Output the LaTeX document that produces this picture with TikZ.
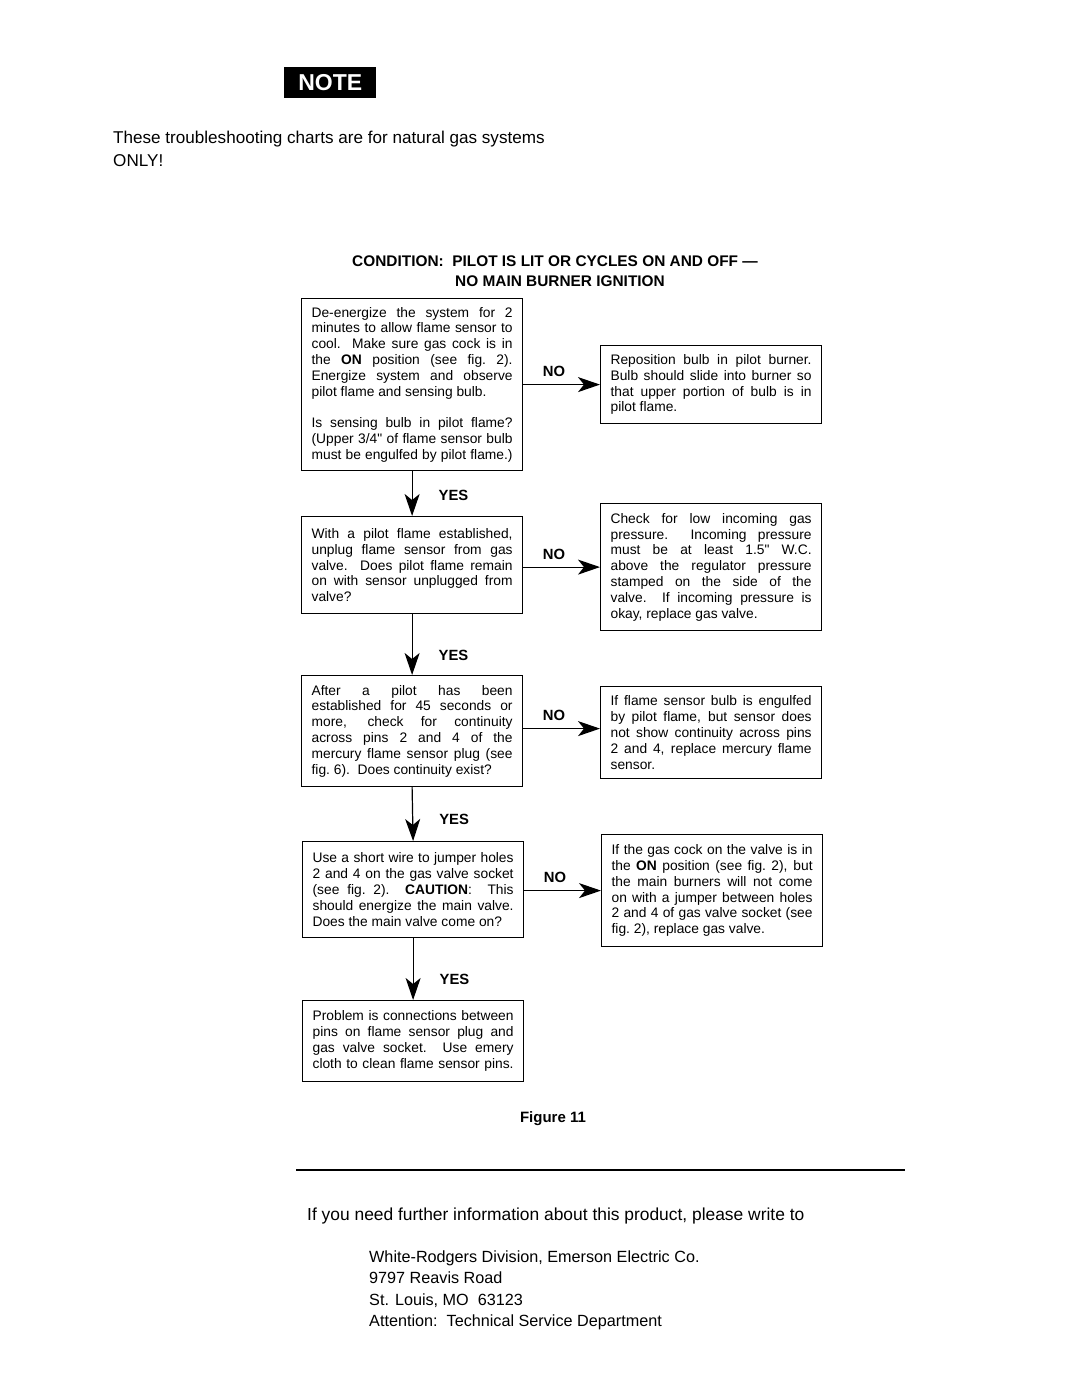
\documentclass[tikz,border=0pt]{standalone}
\usepackage{fontspec}
\setmainfont{Liberation Sans}
\newfontfamily\qfont{Liberation Sans}
\usetikzlibrary{arrows.meta}
\newcommand\jl[1]{\hbox to\hsize{#1}}
\newcommand\nl[1]{\hbox{#1}}
\newcommand\bxt[2]{\vbox{\hsize=#1\fontsize{13.8}{15.8}\selectfont #2}}
\newcommand\inch{{\qfont"}}
\tikzset{
  flowbox/.style={draw, line width=1.2pt, inner xsep=10pt, inner ysep=0pt, anchor=north west},
  arr/.style={line width=1.2pt, -{Stealth[length=22pt,width=15pt,inset=6pt]}},
  lab/.style={font=\fontsize{14.8}{16}\selectfont\bfseries, inner sep=2pt},
  plain/.style={inner sep=0pt}
}
\begin{document}
\begin{tikzpicture}[x=1pt,y=-1pt]
\fill[white] (0,0) rectangle (1080,1391);
\useasboundingbox (0,0) rectangle (1080,1391);

% NOTE badge
\node[fill=black, minimum width=92pt, minimum height=31pt, inner sep=0pt, anchor=north west,
      text=white, font=\fontsize{23}{24}\selectfont\bfseries] (note) at (284,67) {NOTE};

\node[plain, anchor=base west, font=\fontsize{17.1}{20}\selectfont] (intro1) at (113,144)
  {These troubleshooting charts are for natural gas systems};
\node[plain, anchor=base west, font=\fontsize{17.1}{20}\selectfont] (intro2) at (113,167) {ONLY!};

% title
\node[plain, anchor=base, font=\fontsize{15.4}{17}\selectfont\bfseries] (title1) at (555,266)
  {CONDITION:\ \ PILOT IS LIT OR CYCLES ON AND OFF ---};
\node[plain, anchor=base, font=\fontsize{15.4}{17}\selectfont\bfseries] (title2) at (560,286)
  {NO MAIN BURNER IGNITION};

% left column
\node[flowbox, minimum height=172pt] (b1) at (301,298) {\bxt{201pt}{%
\jl{De-energize the system for 2}
\jl{minutes to allow flame sensor to}
\jl{cool.\ \ Make sure gas cock is in}
\jl{the \textbf{ON} position (see fig.\ 2).}
\jl{Energize system and observe}
\nl{pilot flame and sensing bulb.}
\vskip15.8pt
\jl{Is sensing bulb in pilot flame?}
\jl{(Upper 3/4\inch\ of flame sensor bulb}
\jl{must be engulfed by pilot flame.)}}};

\node[flowbox, minimum height=97pt] (b2) at (301,516) {\bxt{201pt}{%
\jl{With a pilot flame established,}
\jl{unplug flame sensor from gas}
\jl{valve.\ \ Does pilot flame remain}
\jl{on with sensor unplugged from}
\nl{valve?}}};

\node[flowbox, minimum height=111pt] (b3) at (301,675) {\bxt{201pt}{%
\jl{After a pilot has been}
\jl{established for 45 seconds or}
\jl{more, check for continuity}
\jl{across pins 2 and 4 of the}
\jl{mercury flame sensor plug (see}
\nl{fig.\ 6).\ \ Does continuity exist?}}};

\node[flowbox, minimum height=96pt] (b4) at (302,841) {\bxt{201pt}{%
\jl{Use a short wire to jumper holes}
\jl{2 and 4 on the gas valve socket}
\jl{(see fig.\ 2).\ \ \textbf{CAUTION}:\ \ This}
\jl{should energize the main valve.}
\nl{Does the main valve come on?}}};

\node[flowbox, minimum height=81pt] (b5) at (302,1000) {\bxt{201pt}{%
\jl{Problem is connections between}
\jl{pins on flame sensor plug and}
\jl{gas valve socket.\ \ Use emery}
\jl{cloth to clean flame sensor pins.}}};

% right column
\node[flowbox, minimum height=78pt] (r1) at (600,345) {\bxt{201pt}{%
\jl{Reposition bulb in pilot burner.}
\jl{Bulb should slide into burner so}
\jl{that upper portion of bulb is in}
\nl{pilot flame.}}};

\node[flowbox, minimum height=127pt] (r2) at (600,503) {\bxt{201pt}{%
\jl{Check for low incoming gas}
\jl{pressure.\ \ Incoming pressure}
\jl{must be at least 1.5\inch\ W.C.}
\jl{above the regulator pressure}
\jl{stamped on the side of the}
\jl{valve.\ \ If incoming pressure is}
\nl{okay, replace gas valve.}}};

\node[flowbox, minimum height=92pt] (r3) at (600,686) {\bxt{201pt}{%
\jl{If flame sensor bulb is engulfed}
\jl{by pilot flame, but sensor does}
\jl{not show continuity across pins}
\jl{2 and 4, replace mercury flame}
\nl{sensor.}}};

\node[flowbox, minimum height=112pt] (r4) at (601,834) {\bxt{201pt}{%
\jl{If the gas cock on the valve is in}
\jl{the \textbf{ON} position (see fig.\ 2), but}
\jl{the main burners will not come}
\jl{on with a jumper between holes}
\jl{2 and 4 of gas valve socket (see}
\nl{fig.\ 2), replace gas valve.}}};

% NO connectors
\draw[arr] (r1.west -| b1.east) -- node[lab, pos=0.4, above=5pt] {NO} (r1.west);
\draw[arr] (r2.west -| b2.east) -- node[lab, pos=0.4, above=5pt] {NO} (r2.west);
\coordinate (a3) at ([yshift=4pt]r3.west);
\draw[arr] (a3 -| b3.east) -- node[lab, pos=0.4, above=5pt] {NO} (a3);
\draw[arr] (r4.west -| b4.east) -- node[lab, pos=0.4, above=5pt] {NO} (r4.west);

% YES connectors
\draw[arr] (b1.south) -- node[lab, pos=0.55, right=24pt] {YES} (b2.north);
\draw[arr] (b2.south) -- node[lab, pos=0.68, right=24pt] {YES} (b3.north);
\draw[arr] (b3.south) -- node[lab, pos=0.6, right=24pt] {YES} (b4.north);
\draw[arr] (b4.south) -- node[lab, pos=0.67, right=24pt] {YES} (b5.north);

\node[plain, font=\fontsize{15}{17}\selectfont\bfseries] (fig) at (553,1119) {Figure 11};

% rule and footer
\coordinate (ruleL) at (296,1170);
\coordinate (ruleR) at (905,1170);
\draw[line width=1.4pt] (ruleL) -- (ruleR);

\node[plain, anchor=base west, font=\fontsize{17.4}{20}\selectfont] (info) at (307,1220)
  {If you need further information about this product, please write to};
\node[plain, anchor=base west, font=\fontsize{16.2}{20}\selectfont] (ad1) at (369,1262)
  {White-Rodgers Division, Emerson Electric Co.};
\node[plain, anchor=base west, font=\fontsize{16.2}{20}\selectfont] (ad2) at (369,1283)
  {9797 Reavis Road};
\node[plain, anchor=base west, font=\fontsize{16.2}{20}\selectfont] (ad3) at (369,1305)
  {St. Louis, MO\ \ 63123};
\node[plain, anchor=base west, font=\fontsize{16.2}{20}\selectfont] (ad4) at (369,1326)
  {Attention:\ \ Technical Service Department};
\end{tikzpicture}
\end{document}
